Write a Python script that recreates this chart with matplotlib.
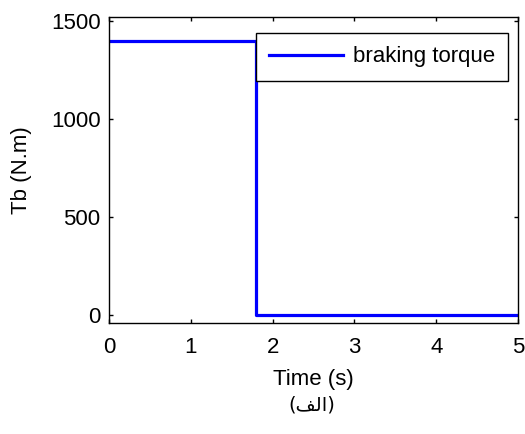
import matplotlib.pyplot as plt

# data
t_switch = 1.8          # time where braking torque drops (s)
tb_high = 1400          # braking torque before the drop (N.m)
tb_low = 0              # braking torque after the drop
t_end = 5

time = [0, t_switch, t_switch, t_end]
torque = [tb_high, tb_high, tb_low, tb_low]

x_ticks = [0, 1, 2, 3, 4, 5]
y_ticks = [0, 500, 1000, 1500]

plt.rcParams['font.family'] = ['Liberation Sans', 'DejaVu Sans']

fig = plt.figure(figsize=(5.25, 4.34), dpi=100)
ax = fig.add_axes([0.2076, 0.2558, 0.7791, 0.7050])

ax.plot(time, torque, color='#0000ff', linewidth=2.3, label='braking torque')

ax.set_xlim(0, 5)
ax.set_ylim(-40, 1520)
ax.set_xticks(x_ticks)
ax.set_yticks(y_ticks)
ax.tick_params(direction='in', length=3, width=1, labelsize=16,
               top=True, right=True)
ax.tick_params(axis='x', pad=10)
ax.tick_params(axis='y', pad=6)
for s in ax.spines.values():
    s.set_linewidth(1)

ax.set_xlabel('Time (s)', fontsize=16, labelpad=8)
ax.set_ylabel('Tb (N.m)', fontsize=16, labelpad=14)

leg = ax.legend(loc='upper right', bbox_to_anchor=(0.9756, 0.9477),
                borderaxespad=0, fontsize=16, handlelength=3.3,
                fancybox=False, edgecolor='black', framealpha=1,
                borderpad=0.6, handletextpad=0.45)
leg.get_frame().set_linewidth(1)

# caption "(الف)" written in visual order with presentation forms
fig.text(0.594, 0.067, '(\uFED2\uFEDF\uFE8D)', ha='center', va='center',
         fontsize=14, family=['DejaVu Sans'])

fig.savefig('out.png', dpi=100)
